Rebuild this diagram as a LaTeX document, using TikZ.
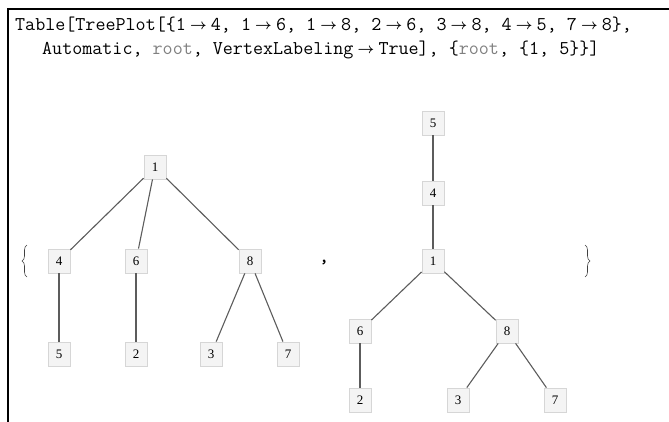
\documentclass[tikz,border=0pt]{standalone}
\usepackage{fontspec}
\usepackage{graphicx}
\usetikzlibrary{decorations.pathreplacing}
\newfontfamily\vfont{Liberation Serif}
\definecolor{boxfill}{HTML}{F4F4F4}
\definecolor{boxdraw}{HTML}{D6D6D6}
\definecolor{edgecol}{HTML}{5C5C5C}
\definecolor{rootcol}{HTML}{808080}
\newcommand{\ar}{\makebox[25pt]{\raisebox{1pt}{\scalebox{0.7}{$\boldsymbol{\rightarrow}$}}}}
\newcommand{\rt}{\textcolor{rootcol}{root}}
\usepackage{amsmath}
\tikzset{
  vtx/.style={draw=boxdraw, fill=boxfill, line width=0.8pt, minimum width=22pt, minimum height=24pt, inner sep=0pt, font=\vfont\fontsize{13pt}{15pt}\selectfont},
  edge/.style={draw=edgecol, line width=1.1pt},
  code/.style={anchor=base west, inner sep=0pt, font=\ttfamily\fontsize{19.5pt}{22pt}\selectfont},
  brc/.style={draw=black!75, line width=0.6pt, decorate, decoration={brace, amplitude=5pt}}
}
\begin{document}
\begin{tikzpicture}[x=1pt, y=-1pt]
\useasboundingbox (0,0) rectangle (669,422);
% frame
\draw[line width=2pt] (8,422) -- (8,9) -- (669,9);
% code text
\node[code] (l1) at (15,31) {Table[TreePlot[\{1\ar4, 1\ar6, 1\ar8, 2\ar6, 3\ar8, 4\ar5, 7\ar8\},};
\node[code] (l2) at (42,55) {Automatic, \rt, VertexLabeling\ar True], \{\rt, \{1, 5\}\}]};
% left tree
\node[vtx] (a1) at (155,167) {1};
\node[vtx] (a4) at (59,261) {4};
\node[vtx] (a6) at (136,261) {6};
\node[vtx] (a8) at (250,261) {8};
\node[vtx] (a5) at (59,354) {5};
\node[vtx] (a2) at (136,354) {2};
\node[vtx] (a3) at (211,354) {3};
\node[vtx] (a7) at (288,354) {7};
\draw[edge] (a1) -- (a4);
\draw[edge] (a1) -- (a6);
\draw[edge] (a1) -- (a8);
\draw[edge] (a4) -- (a5);
\draw[edge] (a6) -- (a2);
\draw[edge] (a8) -- (a3);
\draw[edge] (a8) -- (a7);
% right tree
\node[vtx] (b5) at (433,123) {5};
\node[vtx] (b4) at (433,193) {4};
\node[vtx] (b1) at (433,261) {1};
\node[vtx] (b6) at (360,331) {6};
\node[vtx] (b8) at (507,331) {8};
\node[vtx] (b2) at (360,400) {2};
\node[vtx] (b3) at (458,400) {3};
\node[vtx] (b7) at (555,400) {7};
\draw[edge] (b5) -- (b4);
\draw[edge] (b4) -- (b1);
\draw[edge] (b1) -- (b6);
\draw[edge] (b1) -- (b8);
\draw[edge] (b6) -- (b2);
\draw[edge] (b8) -- (b3);
\draw[edge] (b8) -- (b7);
% braces and comma
\coordinate (lbt) at (27,245);
\coordinate (lbb) at (27,277);
\coordinate (rbt) at (585,245);
\coordinate (rbb) at (585,277);
\draw[brc] (lbb) -- (lbt);
\draw[brc] (rbt) -- (rbb);
\node[inner sep=0pt, font=\ttfamily\bfseries\fontsize{18pt}{20pt}\selectfont] (comma) at (324,262) {,};
\end{tikzpicture}
\end{document}
